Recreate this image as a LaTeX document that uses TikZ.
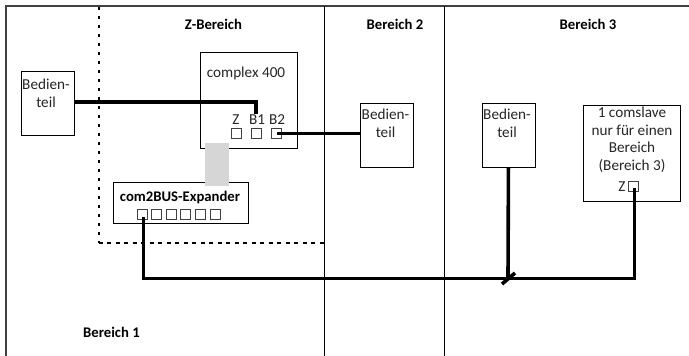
\documentclass[tikz,border=0pt]{standalone}
\usepackage{fontspec}
\setmainfont{Carlito}
\tikzset{
 box/.style={draw=black,line width=0.9pt,fill=white,inner sep=0pt,anchor=north west},
 port/.style={draw=black!75,line width=0.8pt,fill=white,minimum width=10pt,minimum height=10pt,inner sep=0pt},
 wire/.style={line width=3.6pt,line join=miter},
 buswire/.style={line width=3pt,line join=miter},
 divider/.style={line width=0.9pt},
 head/.style={font=\fontsize{14.7}{17}\selectfont\bfseries,inner sep=0pt},
 lbl/.style={font=\fontsize{15.2}{17.5}\selectfont,inner sep=0pt,text=black!85,align=center}
}
\begin{document}
\begin{tikzpicture}[x=1pt,y=-1pt]
\useasboundingbox (0,0) rectangle (689,356);
% frame and dividers
\coordinate (tl) at (6,6); \coordinate (tr) at (689,6); \coordinate (bl) at (6,356);
\draw[line width=1.2pt,black!75] (bl) -- (tl) -- (tr);
\coordinate (d1t) at (324.5,6); \coordinate (d1b) at (324.5,356);
\coordinate (d2t) at (444.5,6); \coordinate (d2b) at (444.5,356);
\draw[divider] (d1t) -- (d1b);
\draw[divider] (d2t) -- (d2b);
% dotted Z area
\coordinate (za) at (98.5,7); \coordinate (zb) at (98.5,243); \coordinate (zc) at (324,243);
\draw[line width=2pt,dash pattern=on 3pt off 6pt] (za) -- (zb);
\draw[line width=1.5pt,dash pattern=on 4pt off 4.5pt] (zb) -- (zc);
% headings
\node[head] (hz) at (213.5,24) {Z-Bereich};
\node[head] (h2) at (395,24) {Bereich 2};
\node[head] (h3) at (588,24) {Bereich 3};
\node[head] (h1) at (111.5,332) {Bereich 1};
% boxes
\node[box,minimum width=53pt,minimum height=64pt] (bt1) at (20.5,70.5) {};
\node[lbl] (bt1t) at (46,93.5) {Bedien-\\teil};
\node[box,minimum width=97pt,minimum height=96pt] (cx) at (199.5,52) {};
\node[lbl] (cxt) at (246,73.5) {complex 400};
\node[box,minimum width=53pt,minimum height=64pt] (bt2) at (360,103) {};
\node[lbl] (bt2t) at (385.5,123.5) {Bedien-\\teil};
\node[box,minimum width=53pt,minimum height=64pt] (bt3) at (481.5,103) {};
\node[lbl] (bt3t) at (507,123.5) {Bedien-\\teil};
\node[box,minimum width=97.5pt,minimum height=96pt] (cs) at (582.5,104.5) {};
\node[lbl] (cst) at (632,140) {1 comslave\\nur für einen\\Bereich\\(Bereich 3)};
% expander and grey connector block
\node[box,minimum width=135pt,minimum height=41pt] (ex) at (112.5,181.5) {};
\node[fill=black!16,minimum width=24pt,minimum height=43pt,inner sep=0pt,anchor=north west] (grey) at (205,143) {};
\node[head] (ext) at (180,197.5) {com2BUS-Expander};
% ports
\node[port] (pz) at (236,133.5) {};
\node[port] (pb1) at (256,133.5) {};
\node[port] (pb2) at (276,133.5) {};
\node[lbl] (lz) at (236,120) {Z};
\node[lbl] (lb1) at (257,120) {B1};
\node[lbl] (lb2) at (277,120) {B2};
\node[port] (e1) at (142,214) {};
\node[port] (e2) at (156.5,214) {};
\node[port] (e3) at (171,214) {};
\node[port] (e4) at (185.5,214) {};
\node[port] (e5) at (200,214) {};
\node[port] (e6) at (215,214) {};
\node[port] (cp) at (633.5,186) {};
\node[lbl] (lcz) at (622,187) {Z};
% wires
\coordinate (j1) at (143,278);
\coordinate (j2) at (508,278);
\coordinate (j3) at (634,278);
\coordinate (b1up) at (256,102);
\coordinate (b1end) at (256,114);
\coordinate (s1) at (502,284); \coordinate (s2) at (515,273);
\coordinate (e1w) at (143,217);
\coordinate (cpw) at (634,188);
\coordinate (pb2w) at (277,133.5);
\draw[wire] (bt1.east |- b1up) -- (b1up) -- (b1end);
\draw[wire] (pb2w) -- (bt2.west |- pb2w);
\draw[buswire] (e1w) -- (j1) -- (j3) -- (cpw);
\draw[wire] (bt3.south) -- (j2);
\draw[wire] (s1) -- (s2);
\end{tikzpicture}
\end{document}
